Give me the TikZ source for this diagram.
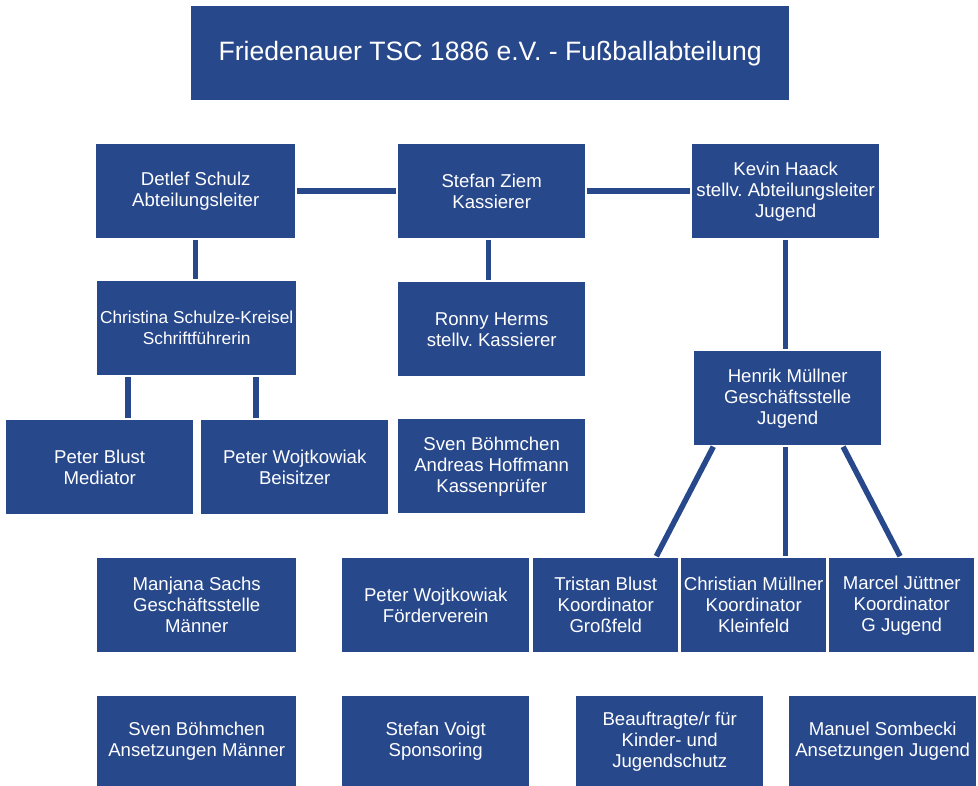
\documentclass[tikz,border=0pt]{standalone}
\usepackage{fontspec}
\setmainfont{Liberation Sans}
\frenchspacing
\definecolor{vereinblau}{RGB}{40,72,140}
\begin{document}
	\begin{tikzpicture}[x=1pt, y=-1pt,
		box/.style={fill=vereinblau, text=white, anchor=north west, inner sep=0pt, align=center,
			minimum width=187, minimum height=94, font=\fontsize{18.6}{21}\selectfont},
		link/.style={draw=vereinblau, line width=5.5pt, shorten <=1.5pt, shorten >=2pt}]
		\useasboundingbox (0,0) rectangle (978,786);
		
		\node[box, minimum width=598, font=\fontsize{26.6}{30}\selectfont] (title) at (191,6) {Friedenauer TSC 1886 e.V. - Fußballabteilung};
		
		\node[box, minimum width=199] (detlef) at (96,144) {Detlef Schulz\\Abteilungsleiter};
		\node[box] (ziem) at (398,144) {Stefan Ziem\\Kassierer};
		\node[box] (kevin) at (692,144) {Kevin Haack\\stellv. Abteilungsleiter\\Jugend};
		
		\node[box, minimum width=199, font=\fontsize{17.3}{21}\selectfont] (chris) at (97,281) {Christina Schulze-Kreisel\\Schriftführerin};
		\node[box] (ronny) at (398,282) {Ronny Herms\\stellv. Kassierer};
		\node[box] (henrik) at (694,351) {Henrik Müllner\\Geschäftsstelle\\Jugend};
		
		\node[box] (blust) at (6,420) {Peter Blust\\Mediator};
		\node[box] (beisitzer) at (201,420) {Peter Wojtkowiak\\Beisitzer};
		\node[box] (kassen) at (398,419) {Sven Böhmchen\\Andreas Hoffmann\\Kassenprüfer};
		
		\node[box, minimum width=199] (manjana) at (97,558) {Manjana Sachs\\Geschäftsstelle\\Männer};
		\node[box] (foerder) at (342,558) {Peter Wojtkowiak\\Förderverein};
		\node[box, minimum width=145] (tristan) at (533,558) {Tristan Blust\\Koordinator\\Großfeld};
		\node[box, minimum width=145] (christian) at (681,558) {Christian Müllner\\Koordinator\\Kleinfeld};
		\node[box, minimum width=145] (marcel) at (829,558) {Marcel Jüttner\\Koordinator\\G Jugend};
		
		\node[box, minimum width=199, minimum height=90] (ansetzm) at (97,696) {Sven Böhmchen\\Ansetzungen Männer};
		\node[box, minimum height=90] (voigt) at (342,696) {Stefan Voigt\\Sponsoring};
		\node[box, minimum height=90] (schutz) at (576,696) {Beauftragte/r für\\Kinder- und\\Jugendschutz};
		\node[box, minimum height=90] (ansetzj) at (789,696) {Manuel Sombecki\\Ansetzungen Jugend};
		
		\draw[link] (detlef.east) -- (ziem.west);
		\draw[link] (ziem.east) -- (kevin.west);
		\draw[link] (detlef.south) -- (detlef.south |- chris.north);
		\draw[link] ([xshift=31pt]chris.south west) -- ([xshift=31pt]chris.south west |- blust.north);
		\draw[link] ([xshift=159pt]chris.south west) -- ([xshift=159pt]chris.south west |- beisitzer.north);
		\draw[link] ([xshift=-3pt]ziem.south) -- ([xshift=-3pt]ziem.south |- ronny.north);
		\draw[link] (kevin.south) -- (kevin.south |- henrik.north);
		\draw[link] ([xshift=20pt]henrik.south west) -- ([xshift=-23pt]tristan.north east);
		\draw[link] ([xshift=-2pt]henrik.south) -- ([xshift=-2pt]henrik.south |- christian.north);
		\draw[link] ([xshift=-39pt]henrik.south east) -- ([xshift=72pt]marcel.north west);
	\end{tikzpicture}
\end{document}
